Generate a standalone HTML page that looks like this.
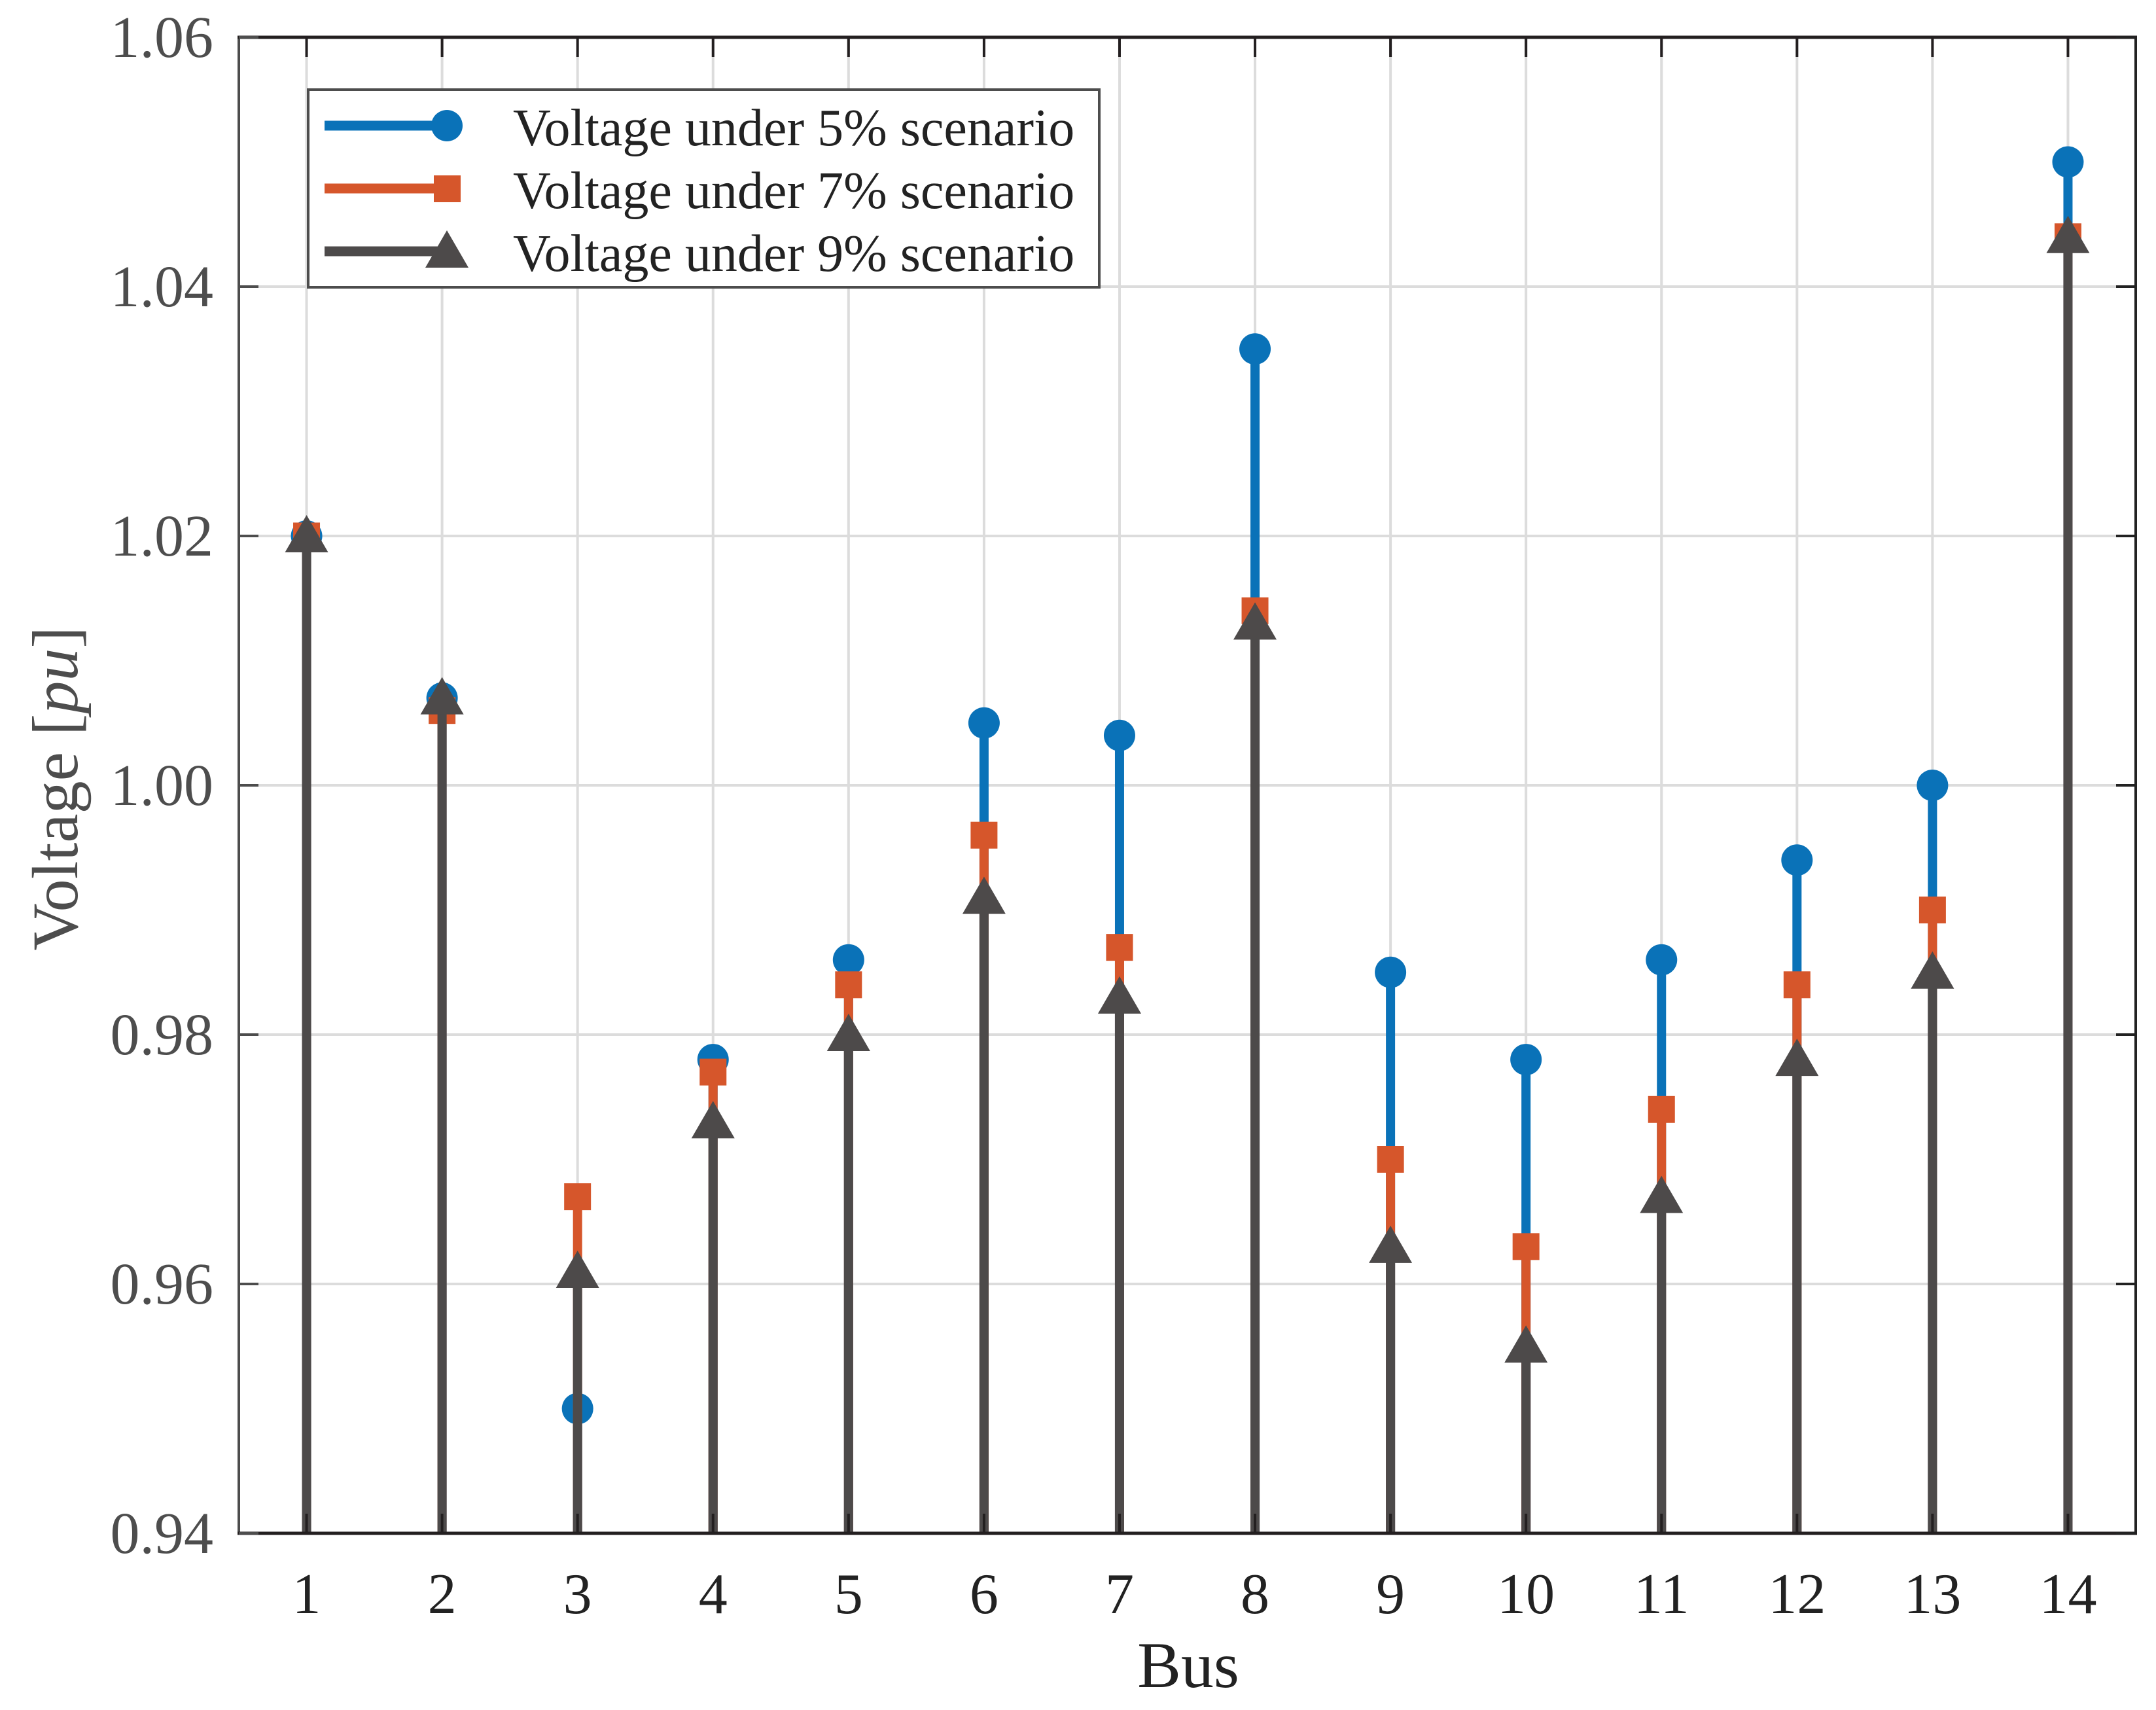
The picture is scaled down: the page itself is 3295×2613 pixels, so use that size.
<!DOCTYPE html>
<html><head><meta charset="utf-8"><style>
html,body{margin:0;padding:0;background:#fff;}
svg{display:block;font-family:"Liberation Serif",serif;}
</style></head><body>
<svg id="chart" width="3295" height="2613" viewBox="0 0 3295 2613" xmlns="http://www.w3.org/2000/svg">
<g id="grid"></g>
<g id="series"></g>
<g id="axes"></g>
<text x="1816" y="2578" font-size="100" text-anchor="middle" fill="#222">Bus</text>
<text transform="translate(118,1205) rotate(-90)" font-size="100" text-anchor="middle" fill="#4d4d4d">Voltage [<tspan font-style="italic">pu</tspan>]</text>
<g id="legend">
<rect x="471" y="137" width="1209" height="302" fill="#fff" stroke="#4d4d4d" stroke-width="4"/>
<g>
<line x1="496" y1="192" x2="683" y2="192" stroke="#0a72b8" stroke-width="15"/>
<circle cx="683" cy="192" r="24" fill="#0a72b8"/>
<text x="784" y="222" font-size="80" fill="#222">Voltage under 5% scenario</text></g>
<g>
<line x1="496" y1="288" x2="683" y2="288" stroke="#d6562b" stroke-width="15"/>
<rect x="663" y="268" width="41" height="41" fill="#d6562b"/>
<text x="784" y="318" font-size="80" fill="#222">Voltage under 7% scenario</text></g>
<g>
<line x1="496" y1="384" x2="683" y2="384" stroke="#4d4a4a" stroke-width="15"/>
<polygon points="683,352 650,409 716,409" fill="#4d4a4a"/>
<text x="784" y="414" font-size="80" fill="#222">Voltage under 9% scenario</text></g>
</g>
</svg>
<script>
const buses = [1,2,3,4,5,6,7,8,9,10,11,12,13,14];
const v5 = [1.020,1.007,0.950,0.978,0.986,1.005,1.004,1.035,0.985,0.978,0.986,0.994,1.000,1.050];
const v7 = [1.020,1.006,0.967,0.977,0.984,0.996,0.987,1.014,0.970,0.963,0.974,0.984,0.990,1.044];
const v9 = [1.020,1.007,0.961,0.973,0.980,0.991,0.983,1.013,0.963,0.955,0.967,0.978,0.985,1.044];
const yTicks = [0.94,0.96,0.98,1.00,1.02,1.04,1.06];
const yTickLabels = ["0.94","0.96","0.98","1.00","1.02","1.04","1.06"];

const NS="http://www.w3.org/2000/svg";
const L=365,R=3264,T=57,B=2343;
const xMin=0.5,xMax=14.5,yMin=0.94,yMax=1.06;
const xs=v=>L+(v-xMin)/(xMax-xMin)*(R-L);
const ys=v=>B-(v-yMin)/(yMax-yMin)*(B-T);
function mk(tag,attrs,parent){const e=document.createElementNS(NS,tag);for(const k in attrs)e.setAttribute(k,attrs[k]);parent.appendChild(e);return e;}
const grid=document.getElementById('grid'),series=document.getElementById('series'),axes=document.getElementById('axes');

buses.forEach(b=>{const e=mk('line',{x1:xs(b),x2:xs(b),y1:T,y2:B,stroke:'#dcdcdc','stroke-width':4},grid);

});
yTicks.forEach(t=>{const e=mk('line',{x1:L,x2:R,y1:ys(t),y2:ys(t),stroke:'#dcdcdc','stroke-width':4},grid);

});

function drawSeries(vals,color,shape,name){
  buses.forEach((b,i)=>{
    const x=xs(b),y=ys(vals[i]);
    const s=mk('line',{x1:x,x2:x,y1:B,y2:y,stroke:color,'stroke-width':14},series);
    
    
    let m;
    if(shape==='circle') m=mk('circle',{cx:x,cy:y,r:24,fill:color},series);
    else if(shape==='square') m=mk('rect',{x:x-20.5,y:y-20.5,width:41,height:41,fill:color},series);
    else m=mk('polygon',{points:`${x},${y-32} ${x-33},${y+25} ${x+33},${y+25}`,fill:color},series);
    
    
  });
}
drawSeries(v5,'#0a72b8','circle','v5');
drawSeries(v7,'#d6562b','square','v7');
drawSeries(v9,'#4d4a4a','triangle','v9');

// axes frame
mk('line',{x1:L,x2:L,y1:T,y2:B,stroke:'#4d4d4d','stroke-width':4},axes);
mk('line',{x1:R,x2:R,y1:T,y2:B,stroke:'#222','stroke-width':4},axes);
mk('line',{x1:L-2,x2:R+2,y1:T,y2:T,stroke:'#231f20','stroke-width':5},axes);
mk('line',{x1:L-2,x2:R+2,y1:B,y2:B,stroke:'#231f20','stroke-width':5},axes);
buses.forEach(b=>{
  mk('line',{x1:xs(b),x2:xs(b),y1:B,y2:B-30,stroke:'#231f20','stroke-width':4},axes);
  mk('line',{x1:xs(b),x2:xs(b),y1:T,y2:T+30,stroke:'#231f20','stroke-width':4},axes);
  const t=mk('text',{x:xs(b),y:B+122,'font-size':88,'text-anchor':'middle',fill:'#222'},axes);
  t.textContent=b;
  
  
});
yTicks.forEach((v,i)=>{
  mk('line',{x1:L,x2:L+30,y1:ys(v),y2:ys(v),stroke:'#4d4d4d','stroke-width':4},axes);
  mk('line',{x1:R,x2:R-30,y1:ys(v),y2:ys(v),stroke:'#222','stroke-width':4},axes);
  const t=mk('text',{x:326,y:ys(v)+30,'font-size':90,'text-anchor':'end',fill:'#4d4d4d'},axes);
  t.textContent=yTickLabels[i];
  
  
});
</script>
</body></html>
